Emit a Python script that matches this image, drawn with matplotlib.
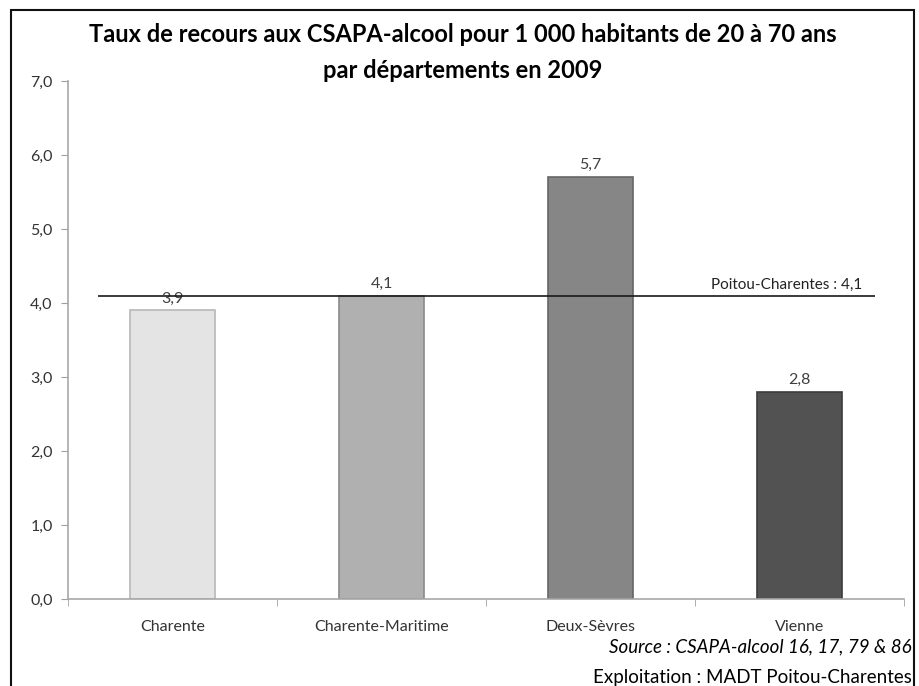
import matplotlib
matplotlib.use("Agg")
import matplotlib.pyplot as plt
from matplotlib.patches import Rectangle

# data
departements = ["Charente", "Charente-Maritime", "Deux-Sèvres", "Vienne"]
taux = [3.9, 4.1, 5.7, 2.8]
taux_labels = ["3,9", "4,1", "5,7", "2,8"]
bar_colors = ["#e4e4e4", "#b0b0b0", "#868686", "#525252"]
edge_colors = ["#b8b8b8", "#8a8a8a", "#666666", "#3c3c3c"]
moyenne_region = 4.1
moyenne_label = "Poitou-Charentes : 4,1"
yticks = [0, 1, 2, 3, 4, 5, 6, 7]
ytick_labels = ["0,0", "1,0", "2,0", "3,0", "4,0", "5,0", "6,0", "7,0"]

plt.rcParams['font.family'] = ['Lato', 'DejaVu Sans']

fig = plt.figure(figsize=(9.19, 6.86), dpi=100)
ax = fig.add_axes([68/919, 1 - 599/686, (904-68)/919, (599-81)/686])

x = list(range(len(departements)))
ax.bar(x, taux, width=0.41, color=bar_colors, edgecolor=edge_colors, linewidth=1.2, zorder=2)

for xi, v, lab in zip(x, taux, taux_labels):
    ax.annotate(lab, (xi, v), xytext=(0, 3.5), textcoords="offset points",
                ha="center", va="bottom", fontsize=11.5, color="#404040")

# regional average line
ax.hlines(moyenne_region, -0.356, 3.36, color="#1a1a1a", linewidth=1.2, zorder=3)
ax.annotate(moyenne_label, (3.30, moyenne_region), xytext=(0, 3), textcoords="offset points",
            ha="right", va="bottom", fontsize=11, color="#222222")

ax.set_xlim(-0.5, 3.5)
ax.set_ylim(0, 7)
ax.set_yticks(yticks, ytick_labels)
ax.set_xticks(x, departements)
ax.set_xticks([-0.5, 0.5, 1.5, 2.5, 3.5], minor=True)
ax.tick_params(axis="x", which="major", length=0, pad=15, labelsize=11.5, labelcolor="#333333")
ax.tick_params(axis="x", which="minor", length=5, color="#a0a0a0", direction="out")
ax.tick_params(axis="y", length=5, color="#a0a0a0", labelsize=11.5, labelcolor="#333333", pad=6)

for s in ["top", "right"]:
    ax.spines[s].set_visible(False)
for s in ["left", "bottom"]:
    ax.spines[s].set_color("#a8a8a8")
    ax.spines[s].set_linewidth(1.2)

fig.text(463/919, 1 - 34/686, "Taux de recours aux CSAPA-alcool pour 1 000 habitants de 20 à 70 ans",
         ha="center", va="center", fontsize=17, fontweight="bold", color="black")
fig.text(463/919, 1 - 70/686, "par départements en 2009",
         ha="center", va="center", fontsize=17, fontweight="bold", color="black")

fig.text(912/919, 1 - 647/686, "Source : CSAPA-alcool 16, 17, 79 & 86",
         ha="right", va="center", fontsize=13.5, style="italic", color="black")
fig.text(912/919, 1 - 678/686, "Exploitation : MADT Poitou-Charentes",
         ha="right", va="center", fontsize=13.5, color="black")

# frame around the picture
fig.patches.append(Rectangle((11/919, -0.1), (914-11)/919, 0.1 + (686-10)/686,
                             transform=fig.transFigure, fill=False,
                             edgecolor="#111111", linewidth=1.5))

fig.savefig("out.png", dpi=100)
